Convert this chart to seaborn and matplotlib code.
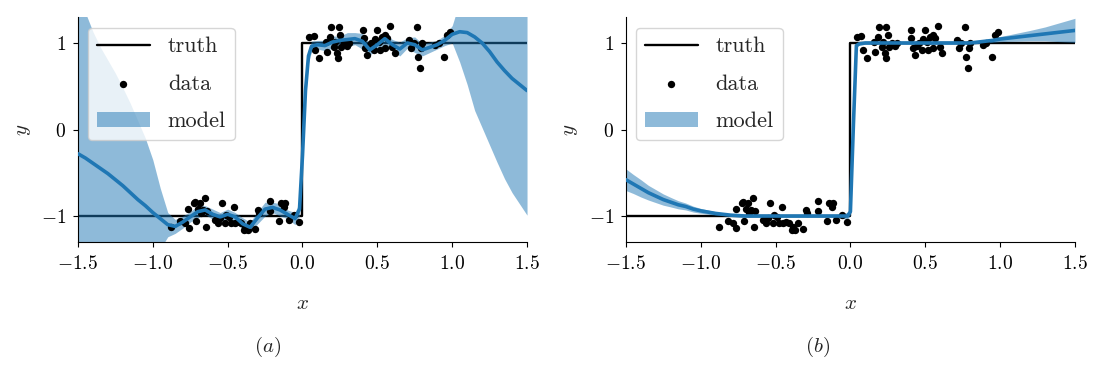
import numpy as np
import matplotlib
matplotlib.use('Agg')
import matplotlib.pyplot as plt
import seaborn as sns

# --- data ---
data_x = [-0.881, -0.816, -0.765, -0.761, -0.727, -0.712, -0.698, -0.683, -0.649, -0.665,
          -0.638, -0.643, -0.583, -0.567, -0.538, -0.520, -0.511, -0.489, -0.460, -0.453,
          -0.427, -0.409, -0.393, -0.367, -0.349, -0.315, -0.298, -0.289, -0.215, -0.215,
          -0.159, -0.142, -0.124, -0.093, -0.026, -0.055, -0.783, -0.716, -0.676, -0.549,
          -0.476, -0.382, -0.115,
          0.041, 0.074, 0.085, 0.108, 0.157, 0.163, 0.186, 0.192, 0.208, 0.219,
          0.230, 0.235, 0.241, 0.248, 0.259, 0.275, 0.297, 0.308, 0.402, 0.408,
          0.419, 0.431, 0.442, 0.460, 0.475, 0.486, 0.497, 0.509, 0.520, 0.531,
          0.549, 0.553, 0.564, 0.586, 0.598, 0.615, 0.709, 0.727, 0.742, 0.765,
          0.771, 0.787, 0.794, 0.798, 0.887, 0.909, 0.943, 0.965, 0.987]
data_y = [-1.131, -1.054, -0.919, -1.143, -0.846, -1.054, -0.923, -0.854, -0.788, -0.931,
          -0.938, -1.123, -1.046, -1.085, -0.846, -1.085, -0.988, -1.008, -0.892, -1.085,
          -1.065, -1.085, -1.162, -1.162, -1.085, -1.150, -0.931, -0.969, -0.827, -0.938,
          -1.054, -0.846, -0.892, -1.046, -1.065, -0.988, -1.085, -0.834, -0.969, -1.027,
          -1.077, -1.123, -0.853,
          1.073, 1.081, 0.919, 0.823, 1.015, 0.900, 1.073, 1.189, 0.958, 1.015,
          0.880, 0.823, 1.189, 1.092, 0.958, 0.996, 0.965, 0.996, 1.150, 1.054,
          0.938, 0.861, 0.965, 0.996, 0.919, 1.042, 1.150, 1.015, 0.919, 1.073,
          0.938, 1.092, 1.054, 1.196, 0.958, 0.880, 1.035, 0.938, 0.996, 1.181,
          0.842, 0.707, 0.938, 0.996, 0.977, 0.996, 0.842, 1.092, 1.131]

truth_x = [-1.5, 0.0, 0.0, 1.5]
truth_y = [-1.0, -1.0, 1.0, 1.0]

grid = [-1.50, -1.45, -1.40, -1.35, -1.30, -1.25, -1.20, -1.15, -1.10, -1.05,
        -1.00, -0.95, -0.90, -0.85, -0.80, -0.75, -0.70, -0.65, -0.60, -0.55,
        -0.50, -0.45, -0.40, -0.35, -0.30, -0.25, -0.20, -0.15, -0.10, -0.05,
        -0.02, 0.00, 0.02, 0.04, 0.06,
        0.10, 0.15, 0.20, 0.25, 0.30, 0.35, 0.40, 0.45, 0.50, 0.55,
        0.60, 0.65, 0.70, 0.75, 0.80, 0.85, 0.90, 0.95, 1.00, 1.05,
        1.10, 1.15, 1.20, 1.25, 1.30, 1.35, 1.40, 1.45, 1.50]

# panel (a): wiggly fit, band blows up outside the data
mean_a = [-0.28, -0.33, -0.39, -0.45, -0.51, -0.58, -0.65, -0.73, -0.81, -0.88,
          -0.96, -1.03, -1.10, -1.12, -1.07, -1.01, -0.95, -0.93, -0.98, -1.01,
          -0.98, -1.01, -1.09, -1.13, -1.02, -0.92, -0.90, -0.93, -0.98, -1.03,
          -0.92, -0.30, 0.45, 0.85, 0.96,
          0.98, 0.97, 1.01, 1.03, 1.04, 1.05, 1.02, 0.92, 0.98, 1.05,
          0.98, 0.93, 1.00, 0.98, 0.92, 0.95, 0.98, 1.03, 1.10, 1.13,
          1.12, 1.07, 1.00, 0.90, 0.78, 0.68, 0.59, 0.52, 0.45]
sd_a = [1.90, 1.68, 1.52, 1.40, 1.31, 1.23, 1.13, 1.03, 0.91, 0.78,
        0.61, 0.35, 0.14, 0.08, 0.07, 0.06, 0.07, 0.05, 0.06, 0.05,
        0.06, 0.05, 0.07, 0.06, 0.07, 0.08, 0.06, 0.07, 0.05, 0.07,
        0.08, 0.10, 0.10, 0.08, 0.06,
        0.05, 0.06, 0.07, 0.05, 0.08, 0.07, 0.09, 0.06, 0.05, 0.07,
        0.06, 0.08, 0.06, 0.09, 0.07, 0.06, 0.05, 0.06, 0.10, 0.35,
        0.60, 0.85, 0.98, 1.08, 1.16, 1.25, 1.32, 1.38, 1.44]

# panel (b): smooth fit, narrow band
mean_b = [-0.58, -0.63, -0.68, -0.73, -0.77, -0.81, -0.84, -0.87, -0.89, -0.92,
          -0.94, -0.955, -0.97, -0.98, -0.99, -0.995, -1.0, -1.0, -1.0, -1.0,
          -1.0, -1.0, -1.0, -1.0, -1.0, -1.0, -1.0, -1.0, -1.0, -1.0,
          -1.0, -0.95, 0.05, 0.97, 0.99,
          1.0, 1.0, 1.0, 1.0, 1.0, 1.0, 1.0, 1.0, 1.0, 1.0,
          1.0, 1.0, 1.0, 1.0, 1.0, 1.01, 1.02, 1.03, 1.045, 1.055,
          1.065, 1.075, 1.085, 1.095, 1.105, 1.115, 1.125, 1.135, 1.145]
sd_b = [0.125, 0.11, 0.10, 0.085, 0.075, 0.065, 0.055, 0.047, 0.04, 0.034,
        0.028, 0.024, 0.02, 0.015, 0.015, 0.015, 0.015, 0.015, 0.015, 0.015,
        0.015, 0.015, 0.015, 0.015, 0.015, 0.015, 0.015, 0.015, 0.015, 0.03,
        0.04, 0.04, 0.04, 0.02, 0.015,
        0.015, 0.015, 0.015, 0.015, 0.015, 0.015, 0.015, 0.015, 0.015, 0.015,
        0.015, 0.015, 0.015, 0.015, 0.015, 0.018, 0.02, 0.024, 0.03, 0.036,
        0.044, 0.052, 0.06, 0.07, 0.08, 0.095, 0.11, 0.125, 0.14]

sns.set_style('ticks')
plt.rcParams['font.family'] = ['cmr10', 'DejaVu Serif']
plt.rcParams['mathtext.fontset'] = 'cm'
plt.rcParams['axes.formatter.use_mathtext'] = True
plt.rcParams['font.size'] = 14
plt.rcParams['axes.edgecolor'] = 'black'
plt.rcParams['xtick.color'] = 'black'
plt.rcParams['ytick.color'] = 'black'
plt.rcParams['xtick.major.pad'] = 6
plt.rcParams['ytick.major.pad'] = 5

blue = '#1f77b4'
fig = plt.figure(figsize=(10.98, 3.70), dpi=100)
ax_a = fig.add_axes([0.071, 0.346, 0.409, 0.608])
ax_b = fig.add_axes([0.570, 0.346, 0.409, 0.608])

panels = [(ax_a, mean_a, sd_a, '(a)', 0.244), (ax_b, mean_b, sd_b, '(b)', 0.745)]
for ax, mean, sd, tag, cx in panels:
    mean = np.array(mean)
    sd = np.array(sd)
    sns.lineplot(x=truth_x, y=truth_y, color='black', lw=1.7, sort=False,
                 estimator=None, label='truth', ax=ax)
    sns.scatterplot(x=data_x, y=data_y, color='black', s=28, linewidth=0,
                    label='data', ax=ax, zorder=3)
    ax.fill_between(grid, mean - sd, mean + sd, color=blue, alpha=0.5,
                    linewidth=0, label='model', zorder=2)
    sns.lineplot(x=grid, y=mean, color=blue, lw=2.6, ax=ax, zorder=4)
    ax.set_xlim(-1.5, 1.5)
    ax.set_ylim(-1.3, 1.3)
    ax.set_xticks([-1.5, -1.0, -0.5, 0.0, 0.5, 1.0, 1.5])
    ax.set_yticks([-1, 0, 1])
    ax.set_xlabel('$x$', fontsize=15, labelpad=16)
    ax.set_ylabel('$y$', fontsize=15, labelpad=6)
    ax.legend(loc='upper left', fontsize=16, handlelength=2.4, labelspacing=0.8,
              borderaxespad=0, bbox_to_anchor=(0.022, 0.951), framealpha=0.8)
    sns.despine(ax=ax)
    fig.text(cx, 0.062, f'$\\mathit{{{tag}}}$', ha='center', va='center',
             fontsize=15)

fig.savefig('out.png', dpi=100)
